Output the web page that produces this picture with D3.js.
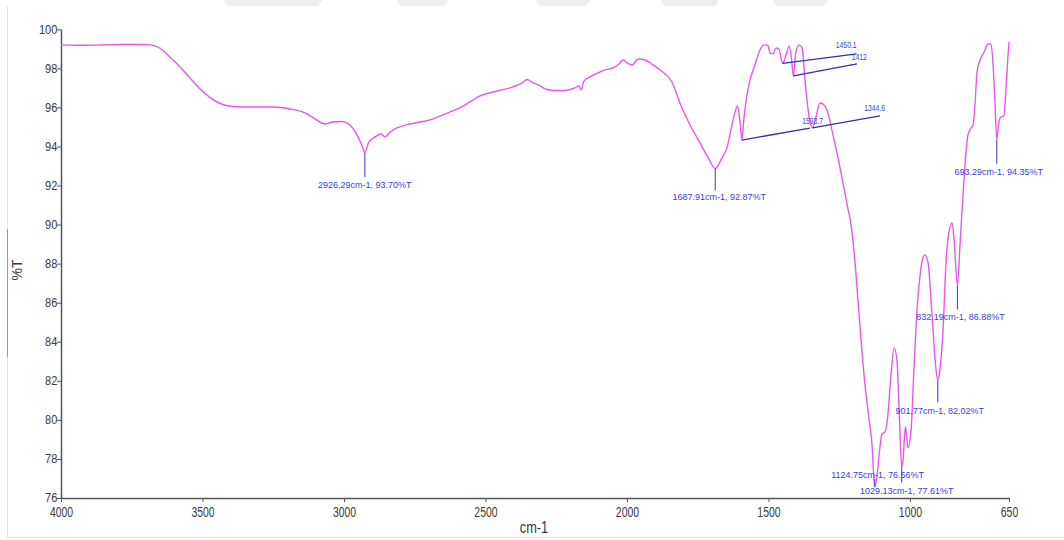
<!DOCTYPE html>
<html>
<head>
<meta charset="utf-8">
<script src="https://cdn.jsdelivr.net/npm/d3@7"></script>
<style>
  html, body { margin: 0; padding: 0; background: #fff; }
  svg { display: block; }
  text { font-family: "Liberation Sans", Arial, sans-serif; }
</style>
</head>
<body>
<svg id="chart" width="1064" height="540"></svg>
<script>
// ---------------- data ----------------
const wavenumber = [
  4000, 3933, 3862, 3792, 3721, 3685, 3650, 3615, 3579, 3544, 3509, 3473, 3438, 3392, 3332, 3251,
  3191, 3138, 3102, 3067, 3039, 3007, 2979, 2954, 2936, 2926.29, 2912, 2890, 2869, 2855, 2837, 2813,
  2767, 2696, 2625, 2579, 2519, 2459, 2403, 2371, 2353, 2336, 2307, 2283, 2254, 2219, 2184, 2170,
  2162, 2152, 2131, 2106, 2078, 2049, 2028, 2014, 2000, 1982, 1961, 1936, 1912, 1873, 1841, 1813,
  1777, 1742, 1714, 1687.91, 1668, 1646, 1629, 1618, 1609, 1600, 1593.7, 1587, 1576, 1565, 1548, 1530,
  1516, 1502, 1495, 1484, 1473, 1463, 1450.1, 1438, 1427, 1420, 1412, 1403, 1392, 1381, 1371, 1360,
  1344.6, 1332, 1318, 1307, 1293, 1272, 1247, 1222, 1208, 1194, 1177, 1159, 1148, 1134, 1124.75, 1116,
  1109, 1099, 1088, 1078, 1067, 1056, 1046, 1037, 1029.13, 1025, 1016, 1007, 996, 986, 975, 964,
  956, 947, 936, 922, 911, 901.77, 894, 883, 873, 862, 851, 844, 832.19, 823, 816, 809,
  802, 795, 784, 777, 770, 763, 752, 738, 724, 714, 707, 700, 693.29, 686, 678, 668,
  661, 654, 650
];
const transmittance = [
  99.2, 99.18, 99.2, 99.22, 99.22, 99.2, 99.03, 98.58, 98.07, 97.5, 96.95, 96.5, 96.2, 96.05, 96.02, 96.02,
  95.92, 95.72, 95.41, 95.15, 95.25, 95.28, 95.1, 94.59, 94.03, 93.70, 94.23, 94.49, 94.64, 94.49, 94.74, 94.95,
  95.15, 95.36, 95.77, 96.07, 96.59, 96.84, 97.05, 97.25, 97.43, 97.3, 97.1, 96.92, 96.87, 96.87, 97.0, 97.1,
  96.9, 97.35, 97.56, 97.74, 97.92, 98.02, 98.22, 98.43, 98.28, 98.17, 98.48, 98.43, 98.22, 97.81, 97.3, 96.23,
  95.1, 94.18, 93.46, 92.87, 93.31, 93.98, 95.1, 95.77, 96.07, 95.2, 94.33, 95.4, 96.64, 97.41, 98.17, 98.94,
  99.2, 99.17, 98.79, 98.74, 99.04, 98.99, 98.25, 98.68, 99.14, 98.68, 97.61, 98.84, 99.2, 99.04, 97.41, 95.87,
  94.95, 95.51, 96.23, 96.17, 95.87, 94.59, 92.9, 91.01, 89.99, 88.04, 84.87, 81.8, 80.42, 78.73, 76.56, 77.18,
  78.2, 79.28, 79.38, 80.25, 82.3, 83.68, 83.06, 80.0, 77.61, 77.86, 79.65, 78.57, 79.5, 82.57, 85.64, 87.43,
  88.2, 88.45, 88.04, 85.38, 83.06, 82.02, 82.57, 84.62, 87.94, 89.63, 90.09, 89.22, 86.88, 88.99, 90.68, 92.32,
  93.7, 94.6, 94.95, 95.1, 96.18, 97.81, 98.43, 98.84, 99.25, 99.25, 98.33, 96.38, 94.35, 95.26, 95.51, 95.56,
  96.89, 98.53, 99.35
];
const xTicks = [4000, 3500, 3000, 2500, 2000, 1500, 1000, 650];
const yTicks = [76, 78, 80, 82, 84, 86, 88, 90, 92, 94, 96, 98, 100];

// peak labels (full)
const peakWn   = [2926.29, 1687.91, 1124.75, 1029.13, 901.77, 832.19, 693.29];
const peakT    = [93.70, 92.87, 76.56, 77.61, 82.02, 86.88, 94.35];
const peakText = ["2926.29cm-1, 93.70%T", "1687.91cm-1, 92.87%T", "1124.75cm-1, 76.56%T",
                  "1029.13cm-1, 77.61%T", "901.77cm-1, 82.02%T", "832.19cm-1, 86.88%T", "693.29cm-1, 94.35%T"];
// short leader labels
const leadWn   = [1450.1, 1412, 1593.7, 1344.6];
const leadT    = [98.25, 97.61, 94.33, 94.95];
const leadText = ["1450.1", "1412", "1593.7", "1344.6"];

// ---------------- layout / style ----------------
const peakStyle = [ // leader length, text dx, text baseline dy
  {len: 25, dx: 0, dy: 36}, {len: 22, dx: 4, dy: 31.5}, {len: -8, dx: 3, dy: -9.5},
  {len: 16, dx: 5, dy: 27}, {len: 22, dx: 2, dy: 34}, {len: 24, dx: 3, dy: 34.5},
  {len: 24, dx: 2, dy: 35}
];
const leadStyle = [ // line end dx, dy ; text offset from line end
  {ex: 74, ey: -9.5, tx: 0, ty: -6}, {ex: 63.5, ey: -12, tx: 10, ty: -4},
  {ex: 68, ey: -12, tx: 13, ty: -4.3}, {ex: 67.5, ey: -12, tx: 5, ty: -4.5}
];

const svg = d3.select("#chart");
const W = 1064;

// faint frame & watermark
const marks = [[224, 322], [397, 448], [536, 590], [661, 719], [773, 828]];
svg.selectAll("polygon.wm").data(marks).join("polygon")
  .attr("class", "wm")
  .attr("points", d => `${d[0]},0 ${d[1]},0 ${d[1] - 4},6 ${d[0] + 4},6`)
  .attr("fill", "#ededed");
svg.append("line").attr("x1", 7.5).attr("x2", 7.5).attr("y1", 6).attr("y2", 537)
  .attr("stroke", "#e3e3e3").attr("stroke-width", 1);
svg.append("line").attr("x1", 7.5).attr("x2", 7.5).attr("y1", 229).attr("y2", 357)
  .attr("stroke", "#8899bb").attr("stroke-width", 1);
svg.append("line").attr("x1", 7).attr("x2", W).attr("y1", 537.5).attr("y2", 537.5)
  .attr("stroke", "#e6e6e6").attr("stroke-width", 1);

const x = d3.scaleLinear().domain([4000, 650]).range([61, 1009]);
const y = d3.scaleLinear().domain([76, 100]).range([498, 29.3]);

// axes
const gx = svg.append("g").attr("transform", "translate(0,498)")
  .call(d3.axisBottom(x).tickValues(xTicks).tickSize(4).tickSizeOuter(0).tickPadding(4.5).tickFormat(d3.format("d")));
const gy = svg.append("g").attr("transform", "translate(61,0)")
  .call(d3.axisLeft(y).tickValues(yTicks).tickSize(4).tickSizeOuter(0).tickPadding(0).tickFormat(d3.format("d")));
[gx, gy].forEach(g => {
  g.select(".domain").attr("stroke", "#555").attr("stroke-width", 1.5);
  g.selectAll(".tick line").attr("stroke", "#555").attr("stroke-width", 1);
  g.selectAll(".tick text").attr("fill", "#3a3a3a");
});
gx.selectAll(".tick text").attr("font-size", 14.5).attr("transform", "scale(0.72,1)");
gy.selectAll(".tick text").attr("font-size", 12).attr("dy", "0.32em").attr("transform", "scale(0.92,1)");

// axis titles
svg.append("g").attr("transform", "translate(534,533) scale(0.8,1)")
  .append("text").attr("text-anchor", "middle")
  .attr("font-size", 16).attr("fill", "#3a3a3a").text("cm-1");
svg.append("text")
  .attr("transform", "translate(21.5,270) rotate(-90)").attr("text-anchor", "middle")
  .attr("font-size", 14).attr("fill", "#3a3a3a").text("%T");

// spectrum
const pts = wavenumber.map((w, i) => [w, transmittance[i]]);
const line = d3.line().x(d => x(d[0])).y(d => y(d[1])).curve(d3.curveMonotoneX);
svg.append("path").datum(pts)
  .attr("d", line).attr("fill", "none")
  .attr("stroke", "#ec55ec").attr("stroke-width", 1.4);

// peak annotations
const labelColor = "#3d3ddc";
peakWn.forEach((w, i) => {
  const px = x(w), py = y(peakT[i]), s = peakStyle[i];
  svg.append("line").attr("x1", px).attr("x2", px).attr("y1", py).attr("y2", py + s.len)
    .attr("stroke", "#5555dd").attr("stroke-width", 1.2);
  svg.append("text")
    .attr("x", px + s.dx).attr("y", py + s.dy).attr("text-anchor", "middle")
    .attr("font-size", 9).attr("fill", labelColor).text(peakText[i]);
});

// leader annotations
leadWn.forEach((w, i) => {
  const px = x(w), py = y(leadT[i]), s = leadStyle[i];
  const ex = px + s.ex, ey = py + s.ey;
  svg.append("line").attr("x1", px).attr("y1", py).attr("x2", ex).attr("y2", ey)
    .attr("stroke", "#2e2eb8").attr("stroke-width", 1.3);
  svg.append("g").attr("transform", `translate(${ex + s.tx},${ey + s.ty}) scale(0.8,1)`)
    .append("text").attr("text-anchor", "end")
    .attr("font-size", 8.5).attr("fill", labelColor).text(leadText[i]);
});
</script>
</body>
</html>
